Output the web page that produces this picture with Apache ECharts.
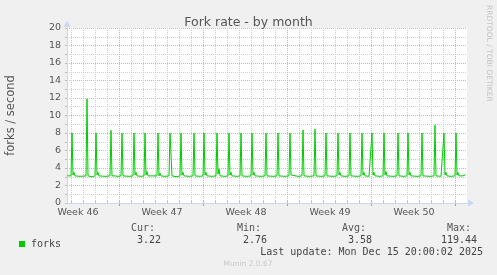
<!DOCTYPE html>
<html>
<head>
<meta charset="utf-8">
<script src="https://cdn.jsdelivr.net/npm/echarts@6/dist/echarts.min.js"></script>
<style>
html,body{margin:0;padding:0;background:#f0f0f0;}
#c{width:497px;height:275px;}
</style>
</head>
<body>
<div id="c"></div>
<script>
// x values are hours since Mon 10 Nov 2025 00:00
const xMin = 64, xMax = 864;
const dayLines = [72,96,120,144,168,192,216,240,264,288,312,336,360,384,408,432,456,480,504,528,552,576,600,624,648,672,696,720,744,768,792,816,840];
const weekLines = [168,336,504,672,840];
const weekLabelPos = [86,254,422,590,758];
const weekLabels = ['Week 46','Week 47','Week 48','Week 49','Week 50'];
const yTicks = [0,2,4,6,8,10,12,14,16,18,20];

const seriesName = 'forks';
const statLabels = ['Cur:','Min:','Avg:','Max:'];
const statValues = ['3.22','2.76','3.58','119.44'];
const lastUpdate = 'Last update: Mon Dec 15 20:00:02 2025';

const forkPoints = [
 [64,3.1],[68,3.15],[72,3.1],[74,8.0],[76,3.2],[78,3.5],[80,3.1],[90,3.05],
 [102,3.1],[104,11.9],[106,3.1],[114,3.0],
 [120,3.1],[122,8.0],[124,3.2],[126,3.5],[128,3.1],[140,3.05],
 [150,3.1],[152,8.3],[154,3.1],[160,3.1],[166,3.05],
 [172,3.1],[174,8.0],[176,3.1],[188,3.05],
 [196,3.1],[198,8.0],[200,3.2],[202,3.5],[204,3.1],[212,3.05],
 [218,3.1],[220,8.0],[222,3.2],[224,3.6],[226,3.1],[236,3.1],
 [244,3.1],[246,8.0],[248,3.1],[250,3.4],[252,3.1],[260,3.05],
 [268,3.1],[270,8.0],[272,7.8],[274,3.1],[284,3.0],
 [290,3.1],[292,8.0],[294,3.2],[296,3.5],[298,3.1],[308,3.05],
 [316,3.1],[318,8.0],[320,3.1],[330,3.05],
 [336,3.1],[338,8.0],[340,3.2],[342,3.5],[344,3.1],[354,3.05],
 [362,3.1],[364,8.0],[366,3.3],[368,3.9],[370,3.1],[380,3.05],
 [386,3.1],[388,8.0],[390,3.2],[392,3.5],[394,3.1],[404,3.05],
 [410,3.1],[412,8.0],[414,3.1],[424,3.05],
 [432,3.1],[434,8.0],[436,3.2],[438,3.5],[440,3.1],[452,3.05],
 [460,3.1],[462,8.0],[464,3.1],[476,3.05],
 [484,3.1],[486,8.0],[488,3.1],[500,3.05],
 [508,3.1],[510,8.0],[512,3.2],[514,3.4],[516,3.1],[526,3.05],
 [534,3.1],[536,8.35],[538,3.1],[548,3.05],
 [558,3.1],[560,8.45],[562,3.1],[572,3.05],
 [580,3.1],[582,8.0],[584,3.1],[596,3.05],
 [604,3.1],[606,8.0],[608,3.2],[610,3.5],[612,3.1],[620,3.05],
 [628,3.1],[630,8.0],[632,3.1],[644,3.05],
 [652,3.1],[654,8.0],[656,3.2],[658,3.5],[660,3.1],[668,3.05],
 [672,3.1],[674,8.0],[676,3.2],[678,3.5],[680,3.1],[690,3.05],
 [696,3.1],[698,8.0],[700,3.2],[702,3.6],[704,3.1],[716,3.05],
 [724,3.1],[726,8.0],[728,3.1],[738,3.05],
 [744,3.1],[746,8.0],[748,3.2],[750,3.5],[752,3.1],[764,3.05],
 [772,3.1],[774,8.0],[776,3.1],[790,3.05],
 [798,3.1],[800,8.9],[802,3.1],[812,3.05],
 [816,3.1],[818,8.0],[820,3.2],[822,3.5],[824,3.1],[832,3.05],
 [840,3.1],[842,8.0],[844,3.2],[846,3.5],[848,3.1],[856,3.1],[861,3.22]
];

const mono = '"DejaVu Sans Mono", monospace';
const sans = '"DejaVu Sans", sans-serif';
const axisBlue = '#ccd4f4';
const majorGrid = '#eaa8a8';
const minorGrid = '#cccccc';
const txt = '#555555';

const chart = echarts.init(document.getElementById('c'), null, {renderer:'canvas'});

const statX = [131, 237, 342, 447];
const valX = [161, 267, 372, 477];
const graphics = [];
statLabels.forEach((s,i)=>{
  graphics.push({type:'text', x:statX[i], y:228, silent:true,
    style:{text:s, font:'10px '+mono, fill:txt, textAlign:'left', textVerticalAlign:'middle'}});
  graphics.push({type:'text', x:valX[i], y:240, silent:true,
    style:{text:statValues[i], font:'10px '+mono, fill:'#444', textAlign:'right', textVerticalAlign:'middle'}});
});
graphics.push({type:'text', x:483, y:252, silent:true,
  style:{text:lastUpdate, font:'10px '+mono, fill:'#444', textAlign:'right', textVerticalAlign:'middle'}});
graphics.push({type:'text', x:248, y:264, silent:true,
  style:{text:'Munin 2.0.67', font:'7.5px '+sans, fill:'#c8c8c8', textAlign:'center', textVerticalAlign:'middle'}});
graphics.push({type:'text', x:489, y:5, rotation:-Math.PI/2, silent:true,
  style:{text:'RRDTOOL / TOBI OETIKER', font:'7.5px '+sans, fill:'#c4c4c4', textAlign:'left', textVerticalAlign:'middle'}});

const minorDays = dayLines.filter(v => weekLines.indexOf(v) < 0).map(v => [v, 0]);
const majorWeeks = weekLines.map(v => [v, 0]);

function vLineRenderer(color) {
  return function (params, api) {
    const cs = params.coordSys;
    const x = Math.round(api.coord([api.value(0), 0])[0]) + 0.5;
    return {
      type:'line', silent:true,
      shape:{x1:x, y1:cs.y, x2:x, y2:cs.y + cs.height},
      style:{stroke:color, lineWidth:1, lineDash:[1,1]}
    };
  };
}

chart.setOption({
  animation:false,
  backgroundColor:'#f0f0f0',
  title:{text:'Fork rate - by month', left:'center', top:11,
    textStyle:{fontFamily:sans, fontSize:12.5, fontWeight:'normal', color:'#555'}},
  legend:{show:true, left:14, top:234, icon:'rect', itemWidth:6, itemHeight:6,
    textStyle:{fontFamily:mono, fontSize:10, color:'#444', padding:[0,0,0,1]},
    data:[{name:seriesName, itemStyle:{color:'#00cc00'}}]},
  grid:{left:67, right:30, top:28, bottom:72, show:true, backgroundColor:'#ffffff', borderWidth:0,
    containLabel:false, outerBoundsMode:'none'},
  xAxis:[
    {type:'value', min:xMin, max:xMax, position:'bottom', z:3,
     axisLine:{show:true, lineStyle:{color:axisBlue, width:1}, symbol:['none','triangle'], symbolSize:[7,6], symbolOffset:[0,4]},
     axisTick:{show:true, inside:true, length:2, customValues:dayLines, lineStyle:{color:'#bbbbbb'}},
     axisLabel:{show:true, customValues:weekLabelPos, margin:5, color:txt, fontFamily:sans, fontSize:9.5,
       formatter:(v)=>{const i=weekLabelPos.indexOf(v); return i>=0?weekLabels[i]:'';}},
     splitLine:{show:false}
    },
    {type:'value', min:xMin, max:xMax, position:'bottom',
     axisLine:{show:false},
     axisTick:{show:true, inside:false, length:3, customValues:weekLines, lineStyle:{color:'#e08080'}},
     axisLabel:{show:false},
     splitLine:{show:false}
    }
  ],
  yAxis:{type:'value', min:0, max:20, interval:2,
    name:'forks / second', nameLocation:'middle', nameRotate:90, nameGap:50,
    nameTextStyle:{fontFamily:sans, fontSize:11.5, color:'#555'},
    axisLine:{show:true, lineStyle:{color:axisBlue, width:1}, symbol:['none','triangle'], symbolSize:[7,6], symbolOffset:[0,4]},
    axisTick:{show:true, inside:false, length:2, lineStyle:{color:'#bbbbbb'}},
    minorTick:{show:true, splitNumber:2, length:2, lineStyle:{color:'#bbbbbb'}},
    axisLabel:{show:true, margin:6, color:txt, fontFamily:sans, fontSize:9.5,
      customValues:yTicks},
    splitLine:{show:true, lineStyle:{color:majorGrid, type:[1,1], width:1}},
    minorSplitLine:{show:true, lineStyle:{color:minorGrid, type:[1,1], width:1}}
  },
  series:[
   {name:'dayGrid', type:'custom', xAxisIndex:0, yAxisIndex:0, silent:true, z:1,
    data:minorDays, encode:{x:0, y:1}, renderItem:vLineRenderer(minorGrid), clip:false},
   {name:'weekGrid', type:'custom', xAxisIndex:0, yAxisIndex:0, silent:true, z:1,
    data:majorWeeks, encode:{x:0, y:1}, renderItem:vLineRenderer(majorGrid), clip:false},
   {
    name:seriesName, type:'line', xAxisIndex:0, yAxisIndex:0,
    data:forkPoints, showSymbol:false, symbol:'none',
    lineStyle:{color:'#00cc00', width:1}, itemStyle:{color:'#00cc00'},
    z:5
   }
  ],
  graphic:graphics
});
</script>
</body>
</html>
